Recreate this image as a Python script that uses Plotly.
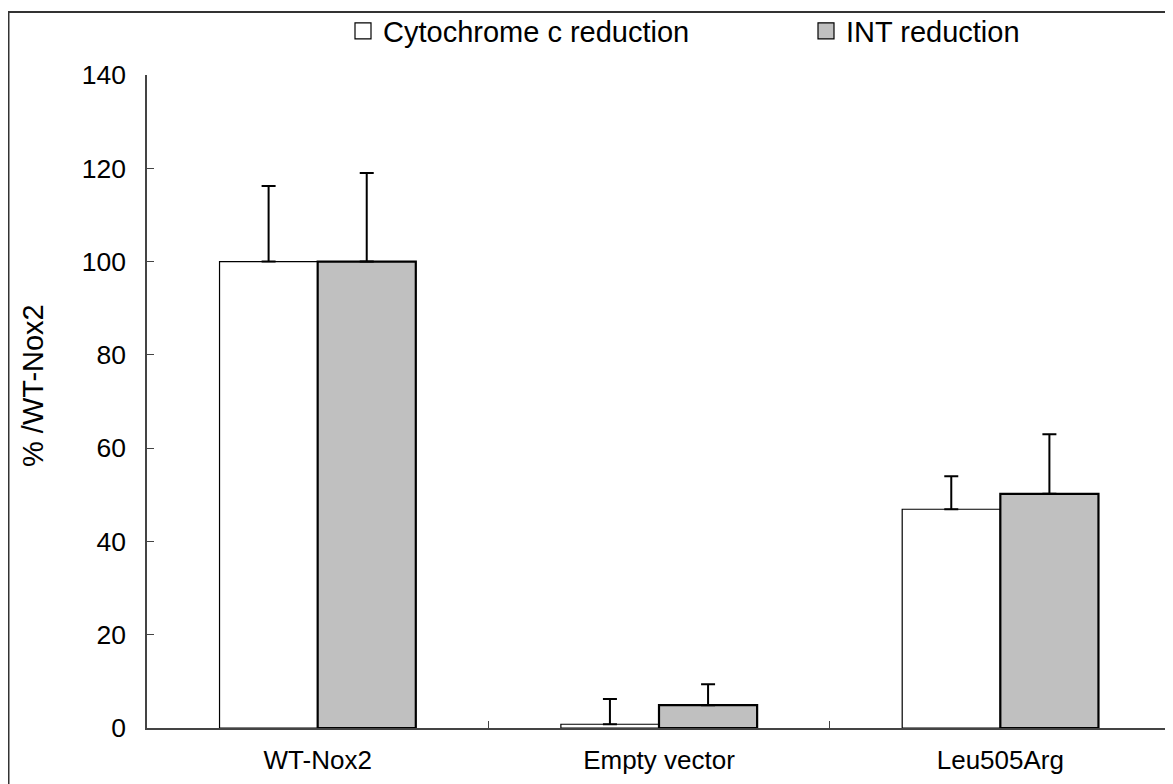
import plotly.graph_objects as go

categories = ["WT-Nox2", "Empty vector", "Leu505Arg"]
cyt_values = [100, 0.8, 46.9]
cyt_errors = [16.2, 5.4, 7.1]
int_values = [100, 4.9, 50.2]
int_errors = [19.0, 4.5, 12.8]
y_ticks = [0, 20, 40, 60, 80, 100, 120, 140]
series_names = ["Cytochrome c reduction", "INT reduction"]

OFF = 8  # page body margin
W, H = 1173 - OFF, 784 - OFF
L, R, T, B = 147 - OFF, 2, 75 - OFF, 56

fig = go.Figure()
fig.add_trace(go.Bar(
    name=series_names[0], x=categories, y=cyt_values, showlegend=False,
    marker=dict(color="white", line=dict(color="black", width=1.2)),
    error_y=dict(type="data", symmetric=False, array=cyt_errors,
                 arrayminus=[0, 0, 0], color="black", thickness=2, width=7),
))
fig.add_trace(go.Bar(
    name=series_names[1], x=categories, y=int_values, showlegend=False,
    marker=dict(color="#C0C0C0", line=dict(color="black", width=2.2)),
    error_y=dict(type="data", symmetric=False, array=int_errors,
                 arrayminus=[0, 0, 0], color="black", thickness=2, width=7),
))
# legend entries (square swatches)
for name, col in zip(series_names, ["white", "#C0C0C0"]):
    fig.add_trace(go.Scatter(
        name=name, x=[None], y=[None], mode="markers",
        marker=dict(symbol="square", size=16, color=col,
                    line=dict(color="black", width=1.2)),
    ))

pw = W - L - R
ph = H - T - B
def px2paper_x(px):
    return (px - OFF - L) / pw
def px2paper_y(py):
    return (H - B - (py - OFF)) / ph

fig.update_layout(
    width=W, height=H,
    margin=dict(l=L, r=R, t=T, b=B, autoexpand=False),
    paper_bgcolor="white", plot_bgcolor="white",
    barmode="group", bargap=0.425, bargroupgap=0,
    font=dict(family="Liberation Sans, Arial, sans-serif", color="black", size=26),
    showlegend=True,
    legend=dict(orientation="h", x=px2paper_x(343), xanchor="left",
                y=px2paper_y(31), yanchor="middle",
                font=dict(size=29), entrywidth=418, itemwidth=30,
                bgcolor="rgba(0,0,0,0)", traceorder="normal"),
    xaxis=dict(showline=True, linecolor="#444", linewidth=1.5,
               ticks="inside", tickson="boundaries", ticklen=7, tickcolor="#444",
               tickfont=dict(size=26), showgrid=False, zeroline=False,
               ticklabelstandoff=8),
    yaxis=dict(range=[0, 140], tickvals=y_ticks, showline=True, linecolor="#444",
               linewidth=1.5, ticks="inside", ticklen=7, tickcolor="#444",
               tickfont=dict(size=26.5), showgrid=False, zeroline=False,
               ticklabelstandoff=14),
    annotations=[dict(text="% /WT-Nox2", textangle=-90, xref="paper", yref="paper",
                      x=px2paper_x(33), y=px2paper_y(386), showarrow=False,
                      font=dict(size=29), xanchor="center", yanchor="middle")],
    shapes=[dict(type="rect", xref="paper", yref="paper",
                 x0=px2paper_x(8.5), x1=px2paper_x(1190),
                 y0=px2paper_y(800), y1=px2paper_y(12),
                 line=dict(color="#333", width=2), layer="below")],
)

fig.write_html("out.html")
